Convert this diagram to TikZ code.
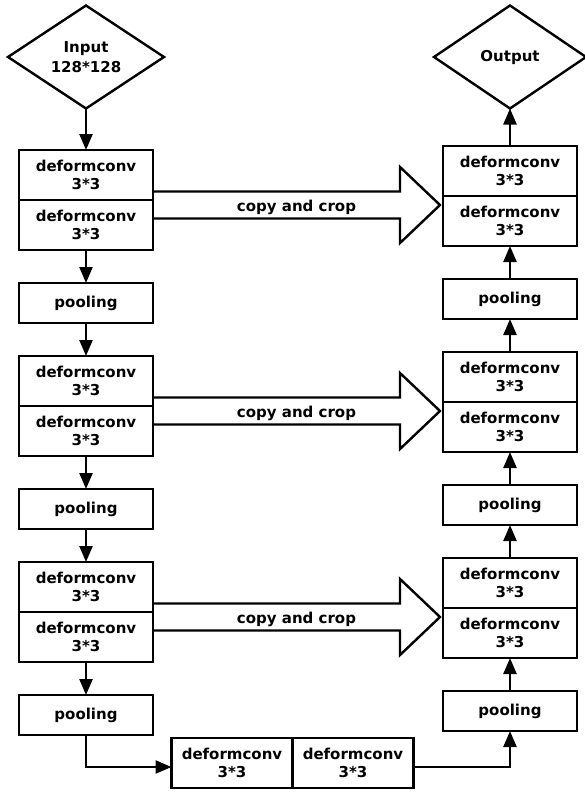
\documentclass[tikz,border=0pt]{standalone}
\usepackage{fontspec}
\setmainfont{DejaVu Sans}
\usetikzlibrary{arrows.meta, positioning, shapes.geometric, calc}

\begin{document}
\begin{tikzpicture}[x=1pt, y=-1pt, >={Triangle[length=16pt, width=13pt]}, line width=2.4pt, node distance=33pt,
    font=\fontsize{15}{18}\selectfont\bfseries,
    conv/.style = {draw, rectangle, minimum width=134pt, minimum height=50pt, inner sep=0pt, outer sep=0pt, align=center},
    pool/.style = {draw, rectangle, minimum width=134pt, minimum height=40pt, inner sep=0pt, outer sep=0pt},
    io/.style = {draw, diamond, aspect=1.5, minimum width=156pt, minimum height=103pt, inner sep=0pt, outer sep=0pt, align=center},
    fatarrow/.style = {draw, line join=miter}]

      \useasboundingbox (0,0) rectangle (585,795);

      % Encoder
      \node[io] (in) at (86,57) {Input\\[2pt]128*128};
      \node[conv] (L1a) at (86,175) {deformconv\\3*3};
      \node[conv, below=0pt of L1a] (L1b) {deformconv\\3*3};
      \node[pool, below=of L1b] (LP1) {pooling};
      \node[conv, below=of LP1] (L2a) {deformconv\\3*3};
      \node[conv, below=0pt of L2a] (L2b) {deformconv\\3*3};
      \node[pool, below=of L2b] (LP2) {pooling};
      \node[conv, below=of LP2] (L3a) {deformconv\\3*3};
      \node[conv, below=0pt of L3a] (L3b) {deformconv\\3*3};
      \node[pool, below=of L3b] (LP3) {pooling};

      % Bottom
      \node[conv, minimum width=121pt] (B1) at (232,763) {deformconv\\3*3};
      \node[conv, minimum width=121pt, right=0pt of B1] (B2) {deformconv\\3*3};

      % Decoder
      \node[io, minimum width=152pt] (out) at (510,57) {Output};
      \node[conv] (R1a) at (510,171) {deformconv\\3*3};
      \node[conv, below=0pt of R1a] (R1b) {deformconv\\3*3};
      \node[pool, below=of R1b] (RP1) {pooling};
      \node[conv, below=of RP1] (R2a) {deformconv\\3*3};
      \node[conv, below=0pt of R2a] (R2b) {deformconv\\3*3};
      \node[pool, below=of R2b] (RP2) {pooling};
      \node[conv, below=of RP2] (R3a) {deformconv\\3*3};
      \node[conv, below=0pt of R3a] (R3b) {deformconv\\3*3};
      \node[pool, below=of R3b] (RP3) {pooling};

      \draw[->] (in) -- (L1a);
      \draw[->] (L1b) -- (LP1);
      \draw[->] (LP1) -- (L2a);
      \draw[->] (L2b) -- (LP2);
      \draw[->] (LP2) -- (L3a);
      \draw[->] (L3b) -- (LP3);
      \draw[->] (LP3) |- ($(B1.west)+(0,4)$);
      \draw[->] ($(B2.east)+(0,4)$) -| (RP3);
      \draw[->] (RP3) -- (R3b);
      \draw[->] (R3a) -- (RP2);
      \draw[->] (RP2) -- (R2b);
      \draw[->] (R2a) -- (RP1);
      \draw[->] (RP1) -- (R1b);
      \draw[->] (R1a) -- (out);

      % copy and crop
      \foreach \l/\r/\n in {L1b/R1b/1, L2b/R2b/2, L3b/R3b/3} {
        \coordinate (t\n) at ($(\l.north east)+(0,5)$);
        \coordinate (h\n) at ($(\r.west |- t\n)+(-3,0)$);
        \draw[fatarrow] ($(t\n)+(0,-13.5)$) -- ($(h\n)+(-40,-13.5)$) -- ($(h\n)+(-40,-38)$)
          -- (h\n) -- ($(h\n)+(-40,38)$) -- ($(h\n)+(-40,13.5)$) -- ($(t\n)+(0,13.5)$);
        \node (cc\n) at ($(t\n)!0.5!(h\n)+(0,2)$) {copy and crop};
      }

    \end{tikzpicture}
\end{document}
